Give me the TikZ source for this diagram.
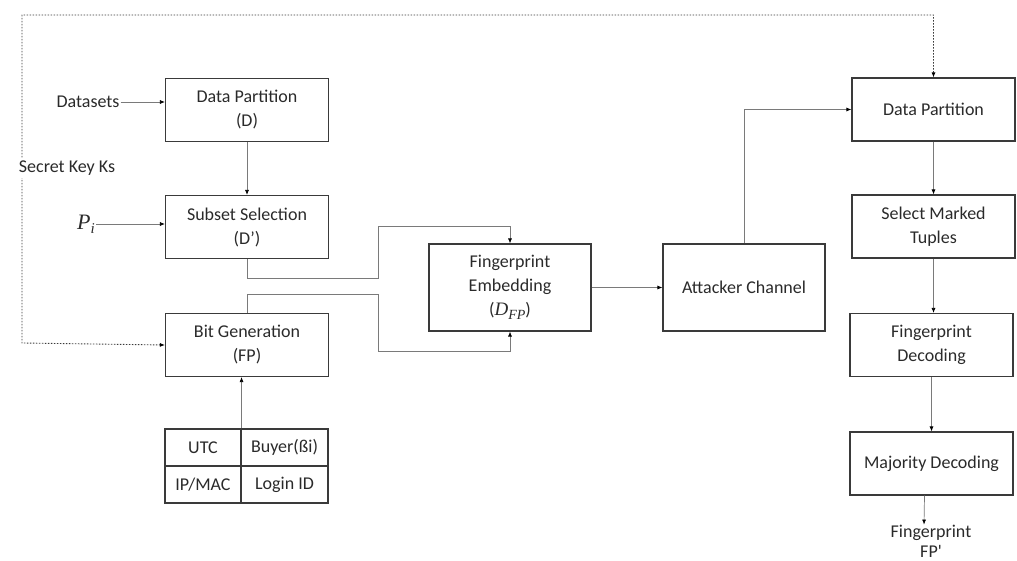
\documentclass[tikz,border=0pt]{standalone}
\usepackage{fontspec}
\setmainfont{Carlito}
\newfontfamily\serifit{Liberation Serif}[ItalicFont=* Italic]
\usetikzlibrary{arrows.meta,calc}
\definecolor{boxline}{HTML}{3A3A3A}
\definecolor{wire}{HTML}{7A7A7A}
\definecolor{ink}{HTML}{2A2A2A}
% italic variable with a lowered subscript
\newcommand{\mvar}[4]{{\serifit\itshape\fontsize{#3}{#3}\selectfont #1\raisebox{-0.4ex}{\fontsize{#4}{#4}\selectfont #2}}}
\begin{document}
\begin{tikzpicture}[x=1pt,y=-1pt,
  font=\fontsize{18}{24}\selectfont, text=ink,
  blk/.style={draw=boxline, line width=1.1pt, minimum width=163pt, minimum height=63pt,
              align=center, inner sep=2pt},
  cell/.style={draw=boxline, line width=1.1pt, minimum height=37pt, inner sep=1pt},
  lbl/.style={align=center, inner sep=1pt},
  arr/.style={draw=wire, line width=0.7pt, -{Latex[length=5pt,width=4pt,color=black]}},
  keyline/.style={draw=boxline, line width=0.9pt, dash pattern=on 1.5pt off 1.5pt,
                  {Latex[length=5pt,width=4pt,color=black]}-{Latex[length=5pt,width=4pt,color=black]}}]
\useasboundingbox (0,0) rectangle (1017,561);

% left column
\node[blk] (dp)  at (247,110) {Data Partition\\(D)};
\node[blk] (ss)  at (247,227) {Subset Selection\\(D’)};
\node[blk] (bg)  at (247,345)   {Bit Generation\\(FP)};

% identity attributes feeding the bit generator
\node[cell, minimum width=76pt] (utc)   at (203,447.5) {UTC};
\node[cell, minimum width=87pt] (buyer) at (284.5,447.5) {Buyer(ßi)};
\node[cell, minimum width=76pt] (ipmac) at (203,484.5) {IP/MAC};
\node[cell, minimum width=87pt] (login) at (284.5,484.5) {Login ID};

% middle
\node[blk, minimum width=162pt, minimum height=87pt] (emb) at (510,287.5)
  {Fingerprint\\Embedding\\(\mvar{D}{FP}{19}{14})};
\node[blk, minimum width=162pt, minimum height=87pt] (att) at (744,287.5) {Attacker Channel};

% right column
\node[blk] (dp2)  at (933.5,109.5) {Data Partition};
\node[blk] (smt)  at (933.5,226.5) {Select Marked\\Tuples};
\node[blk] (fpd)  at (931.5,345)   {Fingerprint\\Decoding};
\node[blk] (maj)  at (931.5,463.5) {Majority Decoding};

% free labels
\node[lbl] (ds)  at (88,102) {Datasets};
\node[lbl] (pi)  at (86,224) {\mvar{P}{i}{22}{15}};
\node[lbl, font=\fontsize{18}{20}\selectfont] (fpo) at (931,541) {Fingerprint\\FP\textquotesingle};

% secret key path (dotted, both ends)
\draw[keyline] (bg.west) -- (22,343) -- (22,15) -| (dp2.north);
\node[lbl, fill=white, inner sep=3pt] (ks) at (67,168) {Secret Key Ks};

% connectors
\draw[arr] (ds.east) -- (dp.west |- ds.east);
\draw[arr] (pi.east) -- (ss.west |- pi.east);
\draw[arr] (dp.south) -- (ss.north);
\draw[arr] (ss.south) -- (247,278) -- (378,278) -- (378,226) -| (emb.north);
\draw[arr] (bg.north) -- (247,294) -- (378,294) -- (378,351) -| (emb.south);
\draw[arr] (utc.north east) -- (bg.south -| utc.north east);
\draw[arr] (emb.east) -- (att.west);
\draw[arr] (att.north) |- (dp2.west);
\draw[arr] (dp2.south) -- (smt.north);
\draw[arr] (smt.south) -- (smt.south |- fpd.north);
\draw[arr] (fpd.south) -- (maj.north);
\draw[arr] ([xshift=-7pt]maj.south) -- ([xshift=-7pt,yshift=-1pt]fpo.north);
\end{tikzpicture}
\end{document}
